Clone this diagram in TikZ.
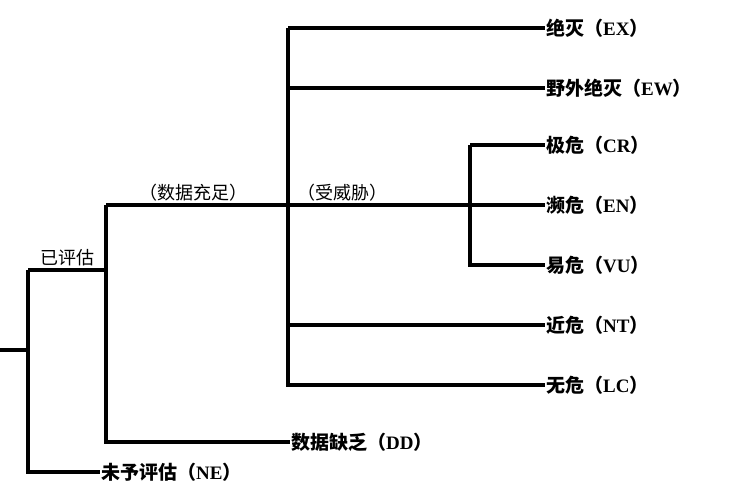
\documentclass[tikz,border=0pt]{standalone}
\usepackage{fontspec}
\setmainfont{Liberation Serif}
\newfontfamily\cjk{Noto Sans CJK SC}
\newfontfamily\cjkb{Noto Sans CJK SC Bold}
\begin{document}
\begin{tikzpicture}[x=1pt, y=-1pt]
  \tikzset{
    branch/.style={line width=3.2pt},
    leaf/.style={anchor=west, inner sep=1pt, font=\fontsize{19}{19}\selectfont\bfseries},
    tag/.style={anchor=south, inner sep=2pt, font=\fontsize{18}{18}\selectfont\cjk}
  }
  \useasboundingbox (0,0) rectangle (731,502);

  % branch points
  \coordinate (root) at (0,350);
  \coordinate (a) at (28,350);
  \coordinate (b) at (106,270);
  \coordinate (c) at (288,205);
  \coordinate (d) at (470,205);

  % leaves
  \node[leaf] (ex) at (545,28) {{\cjkb 绝灭}{\cjkb （}EX{\cjkb ）}};
  \node[leaf] (ew) at (545,88) {{\cjkb 野外绝灭}{\cjkb （}EW{\cjkb ）}};
  \node[leaf] (cr) at (545,145) {{\cjkb 极危}{\cjkb （}CR{\cjkb ）}};
  \node[leaf] (en) at (545,205) {{\cjkb 濒危}{\cjkb （}EN{\cjkb ）}};
  \node[leaf] (vu) at (545,265) {{\cjkb 易危}{\cjkb （}VU{\cjkb ）}};
  \node[leaf] (nt) at (545,325) {{\cjkb 近危}{\cjkb （}NT{\cjkb ）}};
  \node[leaf] (lc) at (545,385) {{\cjkb 无危}{\cjkb （}LC{\cjkb ）}};
  \node[leaf] (dd) at (290,442) {{\cjkb 数据缺乏}{\cjkb （}DD{\cjkb ）}};
  \node[leaf] (ne) at (100,472) {{\cjkb 未予评估}{\cjkb （}NE{\cjkb ）}};

  % tree
  \draw[branch] (root) -- (a);
  \draw[branch] (a |- b) -- (a |- ne) -- (ne.west);
  \draw[branch] (a |- b) -- (b) node[tag, midway] (evaluated) {已评估};
  \draw[branch] (b) -- (b |- dd) -- (dd.west);
  \draw[branch] (b |- c) -- (c) node[tag, midway, xshift=-4pt] (adequate) {（数据充足）};
  \draw[branch] (b |- c) -- (b);
  \draw[branch] (c |- ex) -- (c |- lc) -- (lc.west);
  \draw[branch] (c |- ex) -- (ex.west);
  \draw[branch] (c |- ew) -- (ew.west);
  \draw[branch] (c |- nt) -- (nt.west);
  \draw[branch] (c) -- (d) node[tag, pos=0.3] (threatened) {（受威胁）};
  \draw[branch] (d |- cr) -- (d |- vu) -- (vu.west);
  \draw[branch] (d |- cr) -- (cr.west);
  \draw[branch] (d) -- (en.west);
\end{tikzpicture}
\end{document}
